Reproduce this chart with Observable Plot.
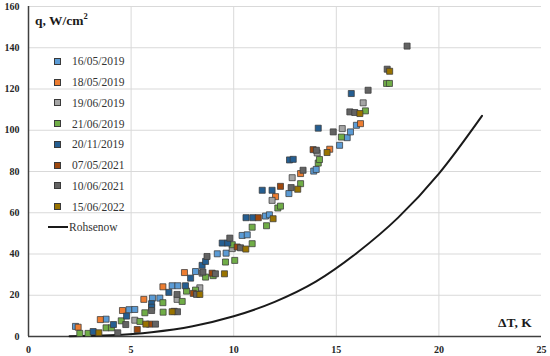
<!DOCTYPE html>
<html>
<head>
<meta charset="utf-8">
<script src="https://cdn.jsdelivr.net/npm/d3@7"></script>
<script src="https://cdn.jsdelivr.net/npm/@observablehq/plot@0.6"></script>
<style>
  html, body { margin: 0; padding: 0; background: #fff; }
  #wrap { position: relative; width: 550px; height: 356px; font-family: "Liberation Serif", "Times New Roman", serif; }
  #wrap svg { position: absolute; left: 0; top: 0; }
  .lab { position: absolute; white-space: nowrap; color: #1a1a1a; }
  .ttl { font-weight: bold; font-size: 13.5px; }
  .leg { position: absolute; left: 52px; top: 51px; font-size: 11.5px; color: #333; }
  .row { height: 20.75px; display: flex; align-items: center; }
  .sw { width: 5px; height: 5px; border: 0.8px solid #3a3a3a; margin-left: 2px; margin-right: 11px; }
  .ln { width: 20px; height: 0; border-top: 2px solid #1a1a1a; margin-left: -4px; margin-right: 1px; }
</style>
</head>
<body>
<div id="wrap"></div>
<script>
// ---- Data (ΔT in K, q in W/cm²) ----
const seriesNames = ["16/05/2019", "18/05/2019", "19/06/2019", "21/06/2019", "20/11/2019", "07/05/2021", "10/06/2021", "15/06/2022"];
const seriesColors = ["#5B9BD5", "#ED7D31", "#A5A5A5", "#70AD47", "#255E91", "#9E480E", "#636363", "#997300"];

const s160519 = [[2.29,4.9],[3.78,8.4],[4.9,13],[5.18,13.1],[6.04,18.6],[6.4,18.6],[7.0,24.6],[7.28,24.6],[8.14,31.5],[9.2,40.1],[9.63,40.4],[10.41,49],[10.66,49.3],[11.55,58.4],[11.74,59],[12.69,69.3],[13.9,80.2],[14.02,81],[15.16,92.7],[15.53,96.4],[15.69,99.2],[15.98,102.4]];
const s180519 = [[2.42,4.5],[3.5,8.2],[4.58,12.6],[5.62,18],[6.55,24.1],[7.6,31],[12.04,67.8],[13.26,79],[14.68,90.8],[16.18,103.2]];
const s190619 = [[5.18,7.9],[7.24,18],[8.35,23.6],[8.46,30.7],[9.93,42.6],[11.87,66],[12.85,77],[14.07,89],[15.29,100.8],[16.31,113.3]];
const s210619 = [[2.5,1.5],[2.9,1.5],[3.78,4.2],[4.04,4.2],[4.52,7.6],[5.43,7.3],[5.67,11.5],[6.55,16.4],[6.56,11.8],[7.49,17],[7.7,22],[8.14,22.5],[8.63,28.8],[9.0,29.5],[9.6,36.1],[10.05,36.9],[9.93,44.5],[10.9,45],[10.9,53],[11.6,53.7],[12.15,62.3],[12.28,63.2],[13.26,74.1],[14.12,84.1],[14.18,85.8],[15.25,96.7],[16.42,109.4],[17.45,122.7],[17.59,122.7]];
const s201119 = [[3.15,2.4],[4.14,5.8],[4.78,9.9],[6.0,15.9],[6.0,14.2],[6.84,21.4],[7.65,24.6],[7.9,28.3],[8.46,34.5],[8.63,36.4],[9.44,45.3],[9.71,45.3],[10.6,57.6],[10.93,57.6],[11.39,70.9],[11.87,70.9],[12.72,85.6],[12.9,85.9],[14.12,101],[15.73,117.8]];
const s070521 = [[5.3,3.4],[5.9,6],[7.1,12.2],[8.03,20.9],[8.95,30.7],[10.17,43.4],[11.2,57.6],[12.28,72.8],[13.87,90.6]];
const s100621 = [[4.35,1.8],[4.74,5.8],[6.0,12.6],[6.19,6],[7.26,12],[7.24,20.4],[8.19,20.4],[8.5,31.2],[8.7,38.8],[9.11,30.4],[9.81,47.7],[10.33,43],[12.8,72.2],[13.38,80.6],[14.03,90.3],[14.85,99.2],[15.66,108.9],[15.9,108.6],[16.55,119.4],[17.48,129.6],[18.45,140.8]];
const s150622 = [[3.43,1.8],[5.72,6],[7.0,12],[8.35,20.4],[9.55,30.4],[10.59,42.4],[11.92,57.1],[13.12,71.4],[14.55,89.2],[16.15,108.1],[17.6,128.6]];

const rohsenowT = [2, 4, 6, 8, 10, 12, 14, 16, 18, 20, 22.1];
const rohsenowQ = [0.1, 0.6, 2.1, 5, 9.8, 16.8, 26.6, 40.5, 57.5, 79, 107];

const xTicks = [0, 5, 10, 15, 20, 25];
const yTicks = [0, 20, 40, 60, 80, 100, 120, 140, 160];

// ---- Build tables ----
const allSeries = [s160519, s180519, s190619, s210619, s201119, s070521, s100621, s150622];
const points = allSeries.flatMap((s, i) => s.map(([t, q]) => ({t, q, name: seriesNames[i], color: seriesColors[i]})));
const roh = rohsenowT.map((t, i) => ({t, q: rohsenowQ[i]}));

const fontFam = '"Liberation Serif", "Times New Roman", serif';

const chart = Plot.plot({
  width: 550,
  height: 356,
  marginLeft: 28,
  marginRight: 9,
  marginTop: 6,
  marginBottom: 20,
  style: {fontFamily: fontFam, fontSize: "10px", fontWeight: "bold", color: "#262626", background: "white"},
  x: {domain: [0, 25]},
  y: {domain: [0, 160]},
  color: {type: "identity"},
  marks: [
    Plot.gridY(yTicks.filter(d => d > 0), {stroke: "#d9d9d9", strokeOpacity: 1, strokeWidth: 1}),
    Plot.gridX(xTicks.filter(d => d > 0 && d < 25), {stroke: "#d9d9d9", strokeOpacity: 1, strokeWidth: 1}),
    Plot.ruleX([0], {stroke: "#404040", strokeWidth: 1.5}),
    Plot.ruleY([0], {stroke: "#404040", strokeWidth: 1.5}),
    Plot.line(roh, {x: "t", y: "q", stroke: "#1a1a1a", strokeWidth: 2, curve: "monotone-x"}),
    Plot.dot(points, {x: "t", y: "q", fill: "color", symbol: "square", r: 3.4, stroke: "#3a3a3a", strokeWidth: 0.75}),
    Plot.axisX(xTicks, {tickSize: 0, tickPadding: 9, label: null, fontWeight: "bold"}),
    Plot.axisY(yTicks, {tickSize: 0, tickPadding: 9, label: null, fontWeight: "bold"})
  ]
});

const wrap = document.getElementById("wrap");
wrap.appendChild(chart);

// Axis titles
const yt = document.createElement("div");
yt.className = "lab ttl";
yt.style.left = "35px"; yt.style.top = "11px";
yt.innerHTML = "q, W/cm<sup style='font-size:8.5px'>2</sup>";
wrap.appendChild(yt);

const xt = document.createElement("div");
xt.className = "lab ttl";
xt.style.left = "498px"; xt.style.top = "315px";
xt.textContent = "ΔT, K";
wrap.appendChild(xt);

// Legend
const leg = document.createElement("div");
leg.className = "leg";
seriesNames.forEach((n, i) => {
  const r = document.createElement("div");
  r.className = "row";
  const sw = document.createElement("div");
  sw.className = "sw";
  sw.style.background = seriesColors[i];
  const tx = document.createElement("span");
  tx.textContent = n;
  r.appendChild(sw); r.appendChild(tx);
  leg.appendChild(r);
});
const rr = document.createElement("div");
rr.className = "row";
const ln = document.createElement("div");
ln.className = "ln";
const rt = document.createElement("span");
rt.textContent = "Rohsenow";
rr.appendChild(ln); rr.appendChild(rt);
leg.appendChild(rr);
wrap.appendChild(leg);
</script>
</body>
</html>
